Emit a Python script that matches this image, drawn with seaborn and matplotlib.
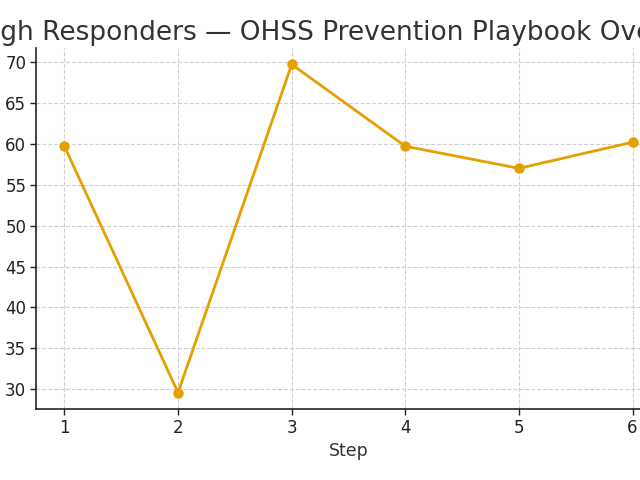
import matplotlib
matplotlib.use("Agg")
import matplotlib.pyplot as plt
import seaborn as sns
import pandas as pd

steps = [1, 2, 3, 4, 5, 6]
scores = [59.7, 29.6, 69.7, 59.7, 57.0, 60.2]
title = "High Responders — OHSS Prevention Playbook Overview"
xlabel = "Step"

df = pd.DataFrame({"Step": steps, "Score": scores})

sns.set_theme(style="whitegrid")
plt.rcParams["font.family"] = ["DejaVu Sans"]

fig = plt.figure(figsize=(6.4, 4.8), dpi=100)
ax = fig.add_axes([36 / 640, 71 / 480, 625 / 640, 361 / 480])

sns.lineplot(data=df, x="Step", y="Score", ax=ax, color="#E69F00",
             linewidth=2, marker="o", markersize=7.5, markeredgewidth=0)

ax.set_title(title, fontsize=19, color="#333333", pad=6)
ax.set_xlabel(xlabel, fontsize=12.5, color="#333333")
ax.set_ylabel("")
ax.set_xticks(steps)
ax.set_yticks([30, 35, 40, 45, 50, 55, 60, 65, 70])
ax.tick_params(axis="both", labelsize=12, colors="#222222", direction="out",
               length=4, width=1, left=True, bottom=True, pad=3)
ax.set_facecolor("white")
ax.grid(True, linestyle="--", color="#d0d0d0", linewidth=0.8)
for s in ["top", "right"]:
    ax.spines[s].set_visible(False)
for s in ["left", "bottom"]:
    ax.spines[s].set_color("#222222")
    ax.spines[s].set_linewidth(1.2)

fig.savefig("out.png", dpi=100)
